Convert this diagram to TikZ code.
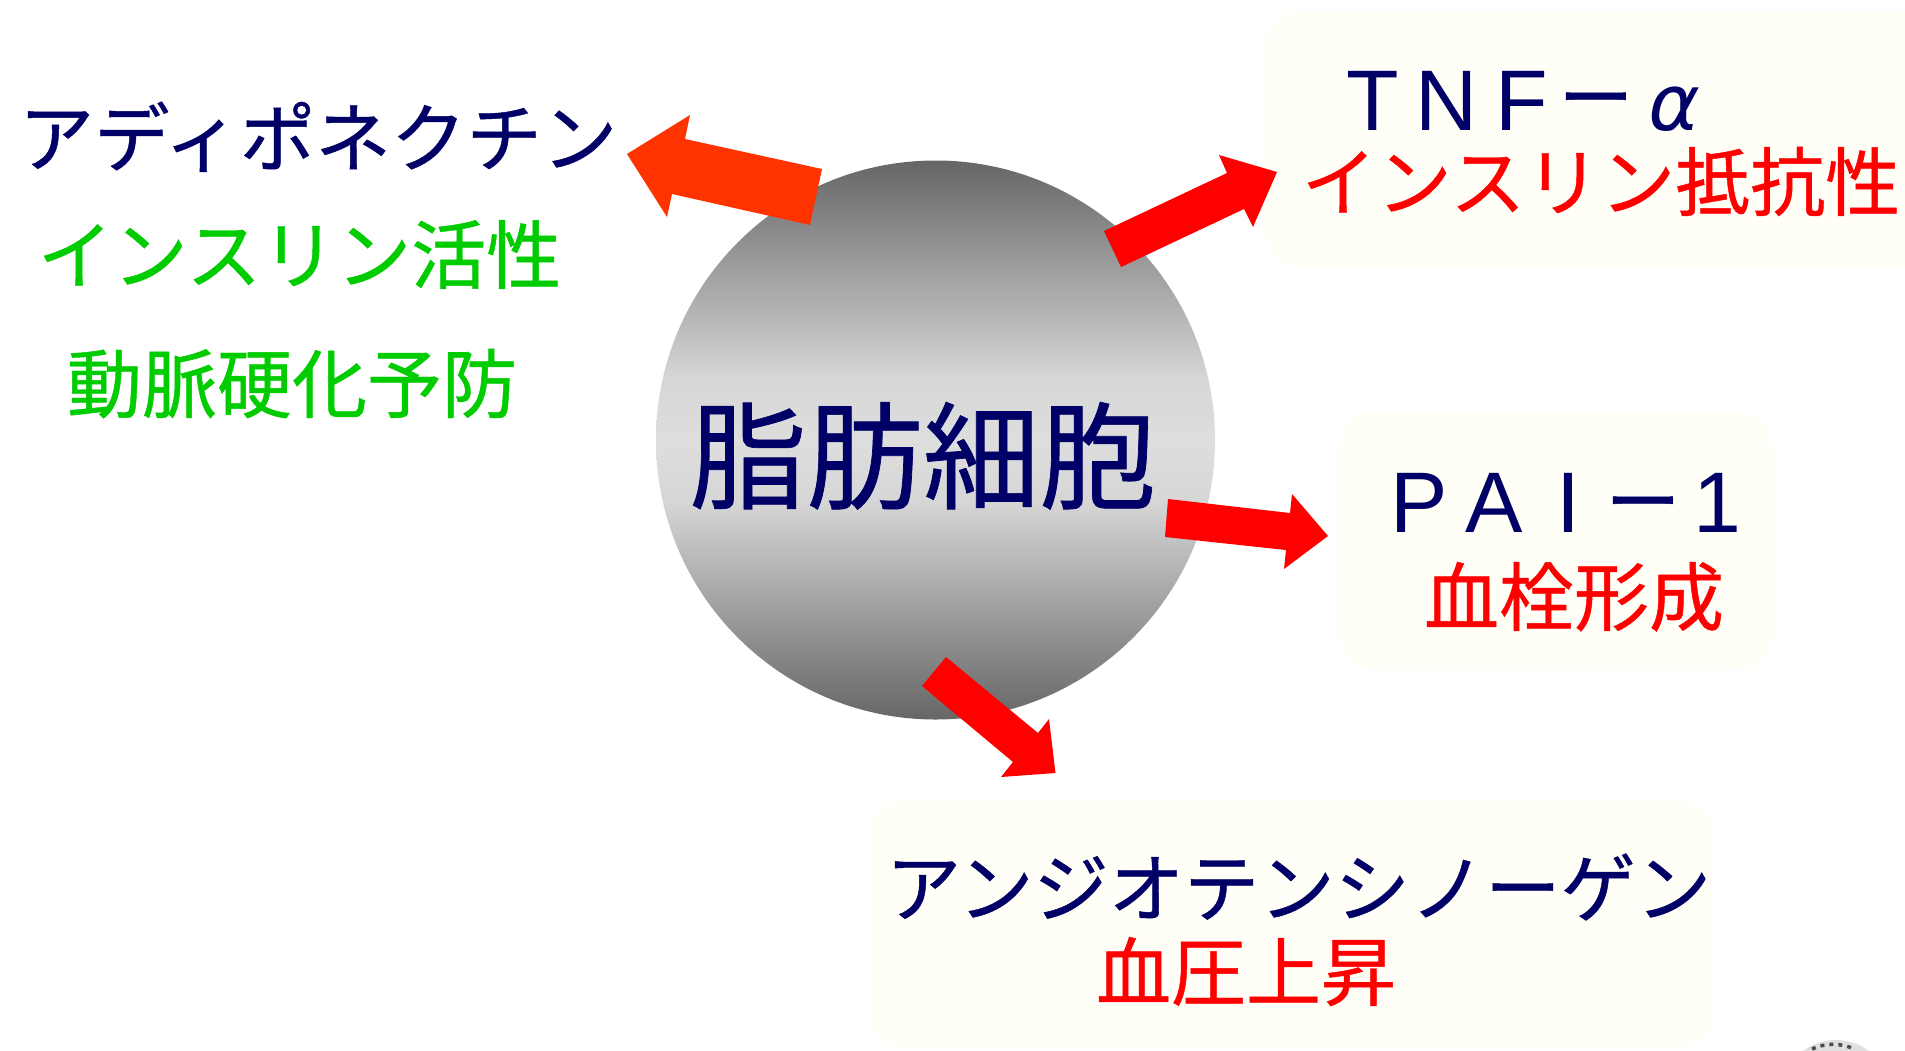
\documentclass[tikz,border=0pt]{standalone}
\usepackage{fontspec}
\newfontfamily\jpfont[FakeBold=0.6]{Noto Sans CJK JP}
\newfontfamily\grfont[FakeSlant=0.2]{DejaVu Sans}
\newfontfamily\capfont{Liberation Sans}
\newcommand{\capcell}[1]{\makebox[74.5pt]{\capfont\fontsize{86}{90}\selectfont #1}}
\newcommand{\barcell}[1]{\makebox[74.5pt]{\raisebox{#1}{ー}}}
\definecolor{navytext}{HTML}{000066}
\definecolor{greentext}{HTML}{00CC00}
\definecolor{redtext}{HTML}{FF0000}
\definecolor{orangearrow}{HTML}{FF3300}
\definecolor{boxfill}{HTML}{FFFFF7}
\pgfdeclareverticalshading{cellshade}{100bp}{%
  rgb(0bp)=(0.40,0.40,0.40);
  rgb(25bp)=(0.40,0.40,0.40);
  rgb(44.5bp)=(0.84,0.84,0.84);
  rgb(50bp)=(0.87,0.87,0.87);
  rgb(55.5bp)=(0.84,0.84,0.84);
  rgb(75bp)=(0.40,0.40,0.40);
  rgb(100bp)=(0.40,0.40,0.40)}
\tikzset{
  softbox/.style={fill=boxfill,draw=none,rounded corners=38pt},
  label74/.style={anchor=base,inner sep=0pt,font=\jpfont\fontsize{75}{80}\selectfont},
  navylabel/.style={label74,text=navytext},
  greenlabel/.style={label74,text=greentext},
  redlabel/.style={label74,text=redtext},
  celllabel/.style={anchor=base,inner sep=0pt,text=navytext,font=\jpfont\fontsize{116.5}{120}\selectfont},
  redarrow/.style={fill=redtext,draw=none},
  orangeblock/.style={fill=orangearrow,draw=none}
}
\begin{document}
\begin{tikzpicture}[x=1pt,y=-1pt]
\useasboundingbox (0,0) rectangle (1905,1050);
\clip (0,0) rectangle (1905,1050);
\fill[white] (0,0) rectangle (1905,1050);

% pale rounded panels
\path[softbox] (1265,10) rectangle (1945,267);
\path[softbox] (1339,412) rectangle (1773,670);
\path[softbox] (870,800) rectangle (1714,1048);

% fat cell
\node[circle,minimum size=559pt,inner sep=0pt,draw=none,shading=cellshade] (cell) at (935.5,440) {};
\node[celllabel] (celltext) at (923,500) {脂肪細胞};

% labels
\node[navylabel,font=\jpfont\fontsize{75.5}{80}\selectfont] (adipo) at (318,166) {アディポネクチン};
\node[greenlabel] (insact) at (299.5,283) {インスリン活性};
\node[greenlabel] (athero) at (292,412) {動脈硬化予防};

\node[navylabel,anchor=base west] (tnf) at (1335,130) {\capcell{T}\capcell{N}\capcell{F}\barcell{5pt}\makebox[74pt]{\grfont\fontsize{78}{80}\selectfont α}};
\node[redlabel] (insres) at (1601,210) {インスリン抵抗性};

\node[navylabel,anchor=base west] (pai) at (1382,532) {\capcell{P}\capcell{A}\capcell{I}\barcell{3pt}\capcell{1}};
\node[redlabel] (thromb) at (1574,625) {血栓形成};

\node[navylabel,font=\jpfont\fontsize{75.3}{80}\selectfont] (angio) at (1298.5,916) {アンジオテンシノーゲン};
\node[redlabel] (press) at (1246,1000) {血圧上昇};

% block arrows
\coordinate (la1) at (822,169); \coordinate (la2) at (685,139); \coordinate (la3) at (690,115);
\coordinate (lat) at (627,154); \coordinate (la4) at (667,217); \coordinate (la5) at (672,194); \coordinate (la6) at (810,225);
\path[orangeblock] (la1) -- (la2) -- (la3) -- (lat) -- (la4) -- (la5) -- (la6) -- cycle;

\coordinate (ra1) at (1104,231); \coordinate (ra2) at (1227,173); \coordinate (ra3) at (1219,155);
\coordinate (rat) at (1277,172); \coordinate (ra4) at (1253,227); \coordinate (ra5) at (1244,209); \coordinate (ra6) at (1121,267);
\path[redarrow] (ra1) -- (ra2) -- (ra3) -- (rat) -- (ra4) -- (ra5) -- (ra6) -- cycle;

\coordinate (ma1) at (1168,499); \coordinate (ma2) at (1290,513); \coordinate (ma3) at (1292,494);
\coordinate (mat) at (1328,536); \coordinate (ma4) at (1284,569); \coordinate (ma5) at (1286,550); \coordinate (ma6) at (1165,537);
\path[redarrow] (ma1) -- (ma2) -- (ma3) -- (mat) -- (ma4) -- (ma5) -- (ma6) -- cycle;

\coordinate (ba1) at (946,657); \coordinate (ba2) at (1038,733); \coordinate (ba3) at (1049,719);
\coordinate (bat) at (1055.5,773); \coordinate (ba4) at (1001,777); \coordinate (ba5) at (1013,762); \coordinate (ba6) at (922,686);
\path[redarrow] (ba1) -- (ba2) -- (ba3) -- (bat) -- (ba4) -- (ba5) -- (ba6) -- cycle;

% cut-off seal at the lower right edge
\fill[black!12] (1836,1095) circle (55);
\draw[black!70,line width=3.5pt,dash pattern=on 4pt off 5pt] (1812,1049) arc[start angle=245,end angle=295,radius=50];
\end{tikzpicture}
\end{document}
